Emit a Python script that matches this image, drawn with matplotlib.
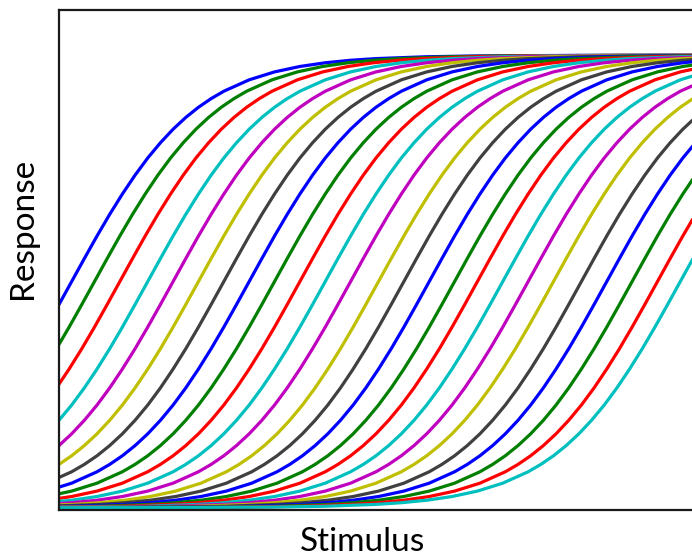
import matplotlib
matplotlib.use("Agg")
import matplotlib.pyplot as plt
import numpy as np

# x position (stimulus units) where each curve reaches half response
midpoints = [0.5, 1.4, 2.4, 3.5, 4.5, 5.5, 6.5, 7.5, 8.5, 9.5,
             10.5, 11.5, 12.6, 13.6, 14.6, 15.6, 16.5, 17.5, 18.5, 19.5,
             20.6, 21.6, 22.6, 23.6, 24.5]

# shared response profile: offset from midpoint -> response
profile_offset = [-26, -20, -16, -14, -12, -11, -10, -9, -8, -7, -6, -5.5, -5, -4.5,
                  -4, -3.5, -3, -2.5, -2, -1.5, -1, -0.5, 0, 0.5, 1, 1.5, 2, 2.5,
                  3, 3.5, 4, 4.5, 5, 5.5, 6, 7, 8, 9, 10, 11, 12, 14, 16, 20, 26]
profile_resp = [0.0, 0.0003, 0.0015, 0.0033, 0.0074, 0.0111, 0.0166, 0.0248, 0.0368,
                0.0543, 0.0795, 0.0958, 0.1149, 0.1374, 0.1634, 0.1933, 0.2270,
                0.2649, 0.3066, 0.3515, 0.3993, 0.4492, 0.5, 0.5508, 0.6007, 0.6485,
                0.6934, 0.7351, 0.7730, 0.8067, 0.8366, 0.8626, 0.8851, 0.9042,
                0.9205, 0.9457, 0.9632, 0.9752, 0.9834, 0.9889, 0.9926, 0.9967,
                0.9985, 0.9997, 1.0]

colors = ["#0000ff", "#007f00", "#ff0000", "#00bfbf", "#bf00bf", "#bfbf00", "#404040"]

fig = plt.figure(figsize=(6.92, 5.60), dpi=100)
ax = fig.add_axes([59 / 692, 50 / 560, 634 / 692, 500 / 560])

offs = np.array(profile_offset)
for i, m in enumerate(midpoints):
    ax.plot(offs + m, profile_resp, color=colors[i % len(colors)], lw=2.3,
            solid_capstyle="butt")

ax.set_xlim(0, 25)
ax.set_ylim(-0.005, 1.1)
ax.set_xticks([])
ax.set_yticks([])
ax.spines["right"].set_visible(False)
for side in ["left", "bottom", "top"]:
    ax.spines[side].set_linewidth(1.6)
    ax.spines[side].set_color("#1a1a1a")

fig.text(363 / 692, 1 - 542 / 560, "Stimulus", ha="center", va="center",
         fontsize=24, family=["Lato", "DejaVu Sans"])
fig.text(23 / 692, 1 - 228 / 560, "Response", ha="center", va="center",
         rotation=90, fontsize=24, family=["Lato", "DejaVu Sans"])

fig.savefig("out.png", dpi=100)
